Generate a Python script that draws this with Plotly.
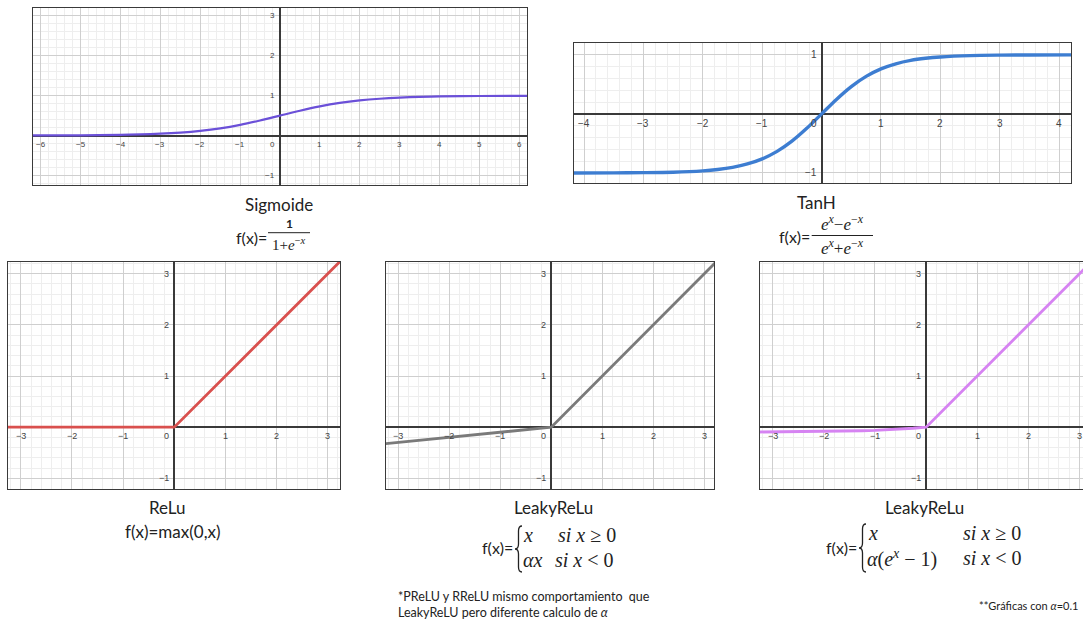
import plotly.graph_objects as go

W, H = 1083, 622

# ---------------- data ----------------
sig_x = [-6.3, -5, -4, -3.5, -3, -2.5, -2, -1.5, -1, -0.5, 0, 0.5, 1, 1.5, 2, 2.5, 3, 3.5, 4, 5, 6.3]
sig_y = [0.002, 0.007, 0.018, 0.029, 0.047, 0.076, 0.119, 0.182, 0.269, 0.378, 0.5,
         0.622, 0.731, 0.818, 0.881, 0.924, 0.953, 0.971, 0.982, 0.993, 0.998]

tanh_x = [-4.3, -3.5, -3, -2.5, -2, -1.75, -1.5, -1.25, -1, -0.75, -0.5, -0.25, 0,
          0.25, 0.5, 0.75, 1, 1.25, 1.5, 1.75, 2, 2.5, 3, 3.5, 4.3]
tanh_y = [-1.0, -0.998, -0.995, -0.987, -0.964, -0.941, -0.905, -0.848, -0.762, -0.635, -0.462, -0.245, 0,
          0.245, 0.462, 0.635, 0.762, 0.848, 0.905, 0.941, 0.964, 0.987, 0.995, 0.998, 1.0]

relu_x = [-3.4, 0, 3.4]
relu_y = [0, 0, 3.4]

leaky_x = [-3.4, 0, 3.4]
leaky_y = [-0.34, 0, 3.4]

elu_x = [-3.4, -3, -2.5, -2, -1.5, -1.25, -1, -0.75, -0.5, -0.25, 0, 3.4]
elu_y = [-0.097, -0.095, -0.092, -0.086, -0.078, -0.071, -0.063, -0.053, -0.039, -0.022, 0, 3.4]

sig_xticks = [-6, -5, -4, -3, -2, -1, 1, 2, 3, 4, 5, 6]
sig_yticks = [-1, 1, 2, 3]
tanh_xticks = [-4, -3, -2, -1, 1, 2, 3, 4]
tanh_yticks = [-1, 1]
small_xticks = [-3, -2, -1, 1, 2, 3]
small_yticks = [-1, 1, 2, 3]

# ---------------- layout helpers ----------------
def px(x):
    return x / W

def py(y):
    return 1 - y / H

panels = [
    ("sig", sig_x, sig_y, "#6B50D8", 2.2, "spline", (33, 8, 527, 185), [-6.2, 6.2], [-1.24, 3.2], sig_xticks, sig_yticks, 8),
    ("tanh", tanh_x, tanh_y, "#3D7DD1", 3.4, "spline", (574, 43, 1071, 183), [-4.17, 4.2], [-1.17, 1.2], tanh_xticks, tanh_yticks, 10),
    ("relu", relu_x, relu_y, "#D9504E", 2.8, "linear", (8, 262, 340, 489), [-3.25, 3.24], [-1.21, 3.23], small_xticks, small_yticks, 9),
    ("leaky", leaky_x, leaky_y, "#7A7A7A", 2.8, "linear", (386, 262, 714, 489), [-3.24, 3.19], [-1.21, 3.23], small_xticks, small_yticks, 9),
    ("elu", elu_x, elu_y, "#D683F2", 2.8, "linear", (760, 262, 1083, 489), [-3.25, 3.07], [-1.21, 3.23], small_xticks, small_yticks, 9),
]

fig = go.Figure()
layout = dict(
    width=W, height=H,
    margin=dict(l=0, r=0, t=0, b=0),
    paper_bgcolor="white", plot_bgcolor="white",
    showlegend=False,
    font=dict(family="Lato", color="#222"),
)
annotations = []
shapes = []

for i, (name, xs, ys, color, lw, lshape, box, xr, yr, xt, yt, tf) in enumerate(panels):
    k = "" if i == 0 else str(i + 1)
    xa, ya = "x" + k, "y" + k
    line = dict(color=color, width=lw, shape=lshape)
    if lshape == "spline":
        line["smoothing"] = 0.8
    fig.add_trace(go.Scatter(x=xs, y=ys, mode="lines", xaxis=xa, yaxis=ya,
                             line=line, hoverinfo="skip"))
    x0, y0, x1, y1 = box
    common = dict(
        showgrid=True, gridcolor="#cfcfcf", gridwidth=1,
        dtick=1, tick0=0,
        minor=dict(dtick=0.2, tick0=0, showgrid=True, gridcolor="#eeeeee", gridwidth=1),
        zeroline=True, zerolinecolor="#3a3a3a", zerolinewidth=1.5,
        showline=True, mirror=True, linecolor="#3a3a3a", linewidth=1.3,
        showticklabels=False, ticks="", fixedrange=True,
    )
    layout["xaxis" + k] = dict(common, domain=[px(x0), px(x1)], range=xr, anchor=ya)
    layout["yaxis" + k] = dict(common, domain=[py(y1), py(y0)], range=yr, anchor=xa)
    tfont = dict(family="Arial", size=tf, color="#444")
    for v in xt:
        annotations.append(dict(x=v, y=0, xref=xa, yref=ya, text=str(v).replace("-", "−"),
                                showarrow=False, xanchor="center", yanchor="top", yshift=-2,
                                font=tfont))
    annotations.append(dict(x=0, y=0, xref=xa, yref=ya, text="0", showarrow=False,
                            xanchor="right", yanchor="top", xshift=-3, yshift=-2, font=tfont))
    for v in yt:
        annotations.append(dict(x=0, y=v, xref=xa, yref=ya, text=str(v).replace("-", "−"),
                                showarrow=False, xanchor="right", yanchor="middle", xshift=-3,
                                font=tfont))

def txt(x, y, s, size=16, anchor="center", family="Lato", color="#222", yanchor="middle", align="center"):
    annotations.append(dict(x=px(x), y=py(y), xref="paper", yref="paper", text=s, showarrow=False,
                            xanchor=anchor, yanchor=yanchor, align=align,
                            font=dict(family=family, size=size, color=color)))

def bar(xa, xb, y):
    shapes.append(dict(type="line", xref="paper", yref="paper", x0=px(xa), x1=px(xb),
                       y0=py(y), y1=py(y), line=dict(color="#222", width=1)))

def brace(xr, xl, ytop, ybot):
    xm = (xr + xl) / 2
    ym = (ytop + ybot) / 2
    r = 5
    pts = [
        ("M", xr, ytop),
        ("Q", xm, ytop, xm, ytop + r),
        ("L", xm, ym - r),
        ("Q", xm, ym, xl, ym),
        ("Q", xm, ym, xm, ym + r),
        ("L", xm, ybot - r),
        ("Q", xm, ybot, xr, ybot),
    ]
    parts = []
    for p in pts:
        cmd = p[0]
        coords = p[1:]
        cs = []
        for j in range(0, len(coords), 2):
            cs.append(f"{px(coords[j]):.5f},{py(coords[j + 1]):.5f}")
        parts.append(cmd + " " + " ".join(cs))
    shapes.append(dict(type="path", xref="paper", yref="paper", path=" ".join(parts),
                       line=dict(color="#222", width=1.3)))

serif = "Liberation Serif"

# Sigmoide
txt(278.7, 204, "Sigmoide", 17)
txt(268.5, 237, "f(x)=", 16, anchor="right")
txt(289, 223, "<b>1</b>", 12, family="Lato")
bar(268, 310, 232.7)
txt(289, 244, "1+<i>e</i><sup>−<i>x</i></sup>", 15, family=serif)

# TanH
txt(816, 203, "TanH", 17)
txt(812, 236, "f(x)=", 16, anchor="right")
txt(842, 223, "<i>e</i><sup><i>x</i></sup>−<i>e</i><sup>−<i>x</i></sup>", 17, family=serif)
bar(811.7, 873, 235.5)
txt(842, 247, "<i>e</i><sup><i>x</i></sup>+<i>e</i><sup>−<i>x</i></sup>", 17, family=serif)

# ReLU
txt(167, 507, "ReLu", 17)
txt(172.5, 531, "f(x)=max(0,x)", 17)

# LeakyReLU
txt(553, 507, "LeakyReLu", 17)
txt(515, 547, "f(x)=", 16, anchor="right")
brace(522, 515, 526, 572)
txt(521, 535, "<i>x</i>", 20, anchor="left", family=serif)
txt(556, 535, "<i>si x</i> ≥ 0", 20, anchor="left", family=serif)
txt(521, 560, "<i>αx</i>", 20, anchor="left", family=serif)
txt(553, 560, "<i>si x</i> &lt; 0", 20, anchor="left", family=serif)

# ELU (labelled LeakyReLu in the source)
txt(924, 507, "LeakyReLu", 17)
txt(859, 547, "f(x)=", 16, anchor="right")
brace(866, 859, 524, 572)
txt(866, 533, "<i>x</i>", 20, anchor="left", family=serif)
txt(961, 533, "<i>si x</i> ≥ 0", 20, anchor="left", family=serif)
txt(865, 558, "<i>α</i>(<i>e</i><sup><i>x</i></sup> − 1)", 20, anchor="left", family=serif)
txt(961, 558, "<i>si x</i> &lt; 0", 20, anchor="left", family=serif)

# footnotes
txt(396, 604, "*PReLU y RReLU mismo comportamiento  que<br>LeakyReLU pero diferente calculo de <i>α</i>",
    12.5, anchor="left", align="left")
txt(1080, 605, "**Gráficas con <i>α</i>=0.1", 11, anchor="right")

layout["annotations"] = annotations
layout["shapes"] = shapes
fig.update_layout(**layout)
fig.write_html("out.html", config={"displayModeBar": False},
               post_script="document.body.style.margin='0';document.body.style.overflow='hidden';")
